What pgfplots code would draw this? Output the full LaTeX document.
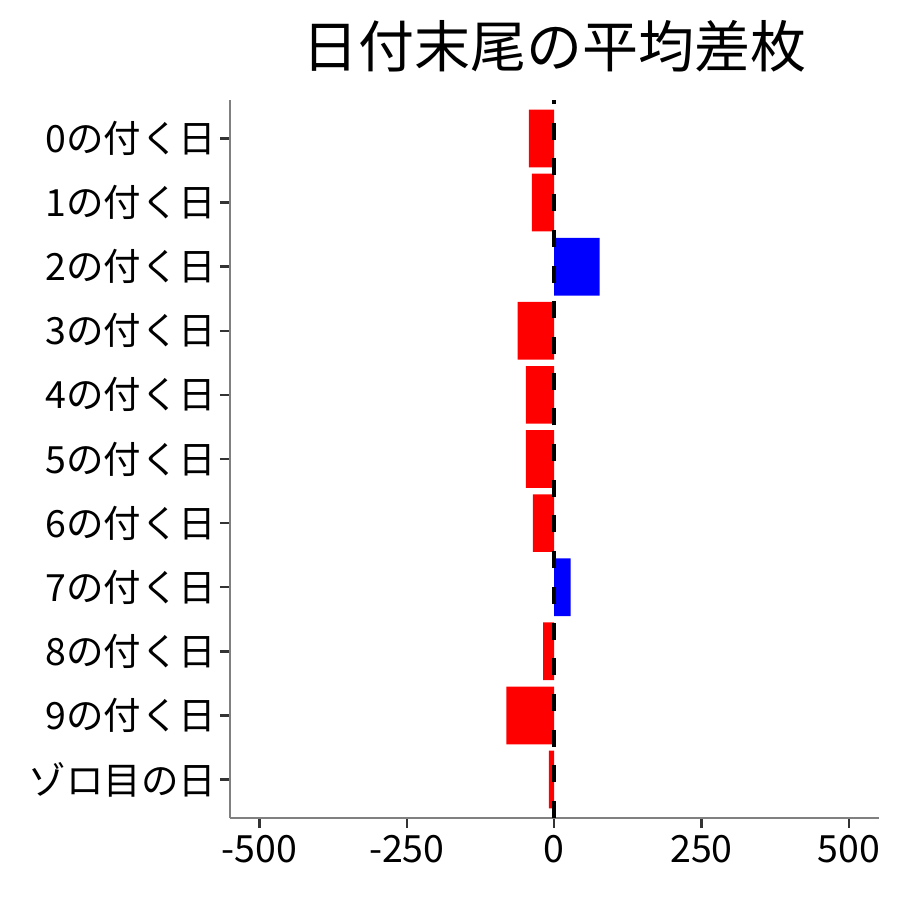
\documentclass[border=0pt]{standalone}
\usepackage{pgfplots}
\pgfplotsset{compat=1.18}
\usepackage{fontspec}
\setmainfont{Noto Sans CJK JP}
\begin{document}
\begin{tikzpicture}[x=1pt,y=1pt]
\useasboundingbox (0,0) rectangle (900,900);
\begin{axis}[
  at={(230pt,82pt)}, anchor=south west,
  scale only axis, width=649pt, height=718pt,
  xmin=-550, xmax=551, ymin=-0.6, ymax=10.6, y dir=reverse,
  xbar, bar width=0.9, bar shift=0pt,
  xtick={-500,-250,0,250,500}, xticklabels={-500,-250,0,250,500},
  ytick={0,1,2,3,4,5,6,7,8,9,10},
  yticklabels={0の付く日,1の付く日,2の付く日,3の付く日,4の付く日,5の付く日,6の付く日,7の付く日,8の付く日,9の付く日,ゾロ目の日},
  axis x line*=bottom, axis y line*=left,
  axis line style={draw=black!50, line width=1.3pt, -},
  tick align=outside, major tick length=10pt,
  tick style={draw=black!80, line width=2.5pt},
  ticklabel style={font=\fontsize{37.5}{42}\selectfont, text=black},
  xticklabel style={yshift=-4pt},
]
\addplot[fill=red, draw=none] coordinates {(-43,0) (-38,1) (-62,3) (-48,4) (-48,5) (-36,6) (-19,8) (-81,9) (-9,10)};
\addplot[fill=blue, draw=none] coordinates {(77,2) (28,7)};
\addplot[sharp plot, black, line width=3.5pt, dash pattern=on 17pt off 18.7pt] coordinates {(0,10.6) (0,-0.6)};
\end{axis}
\node[anchor=base, font=\fontsize{56}{60}\selectfont] at (554.5,832) {日付末尾の平均差枚};
\end{tikzpicture}
\end{document}
